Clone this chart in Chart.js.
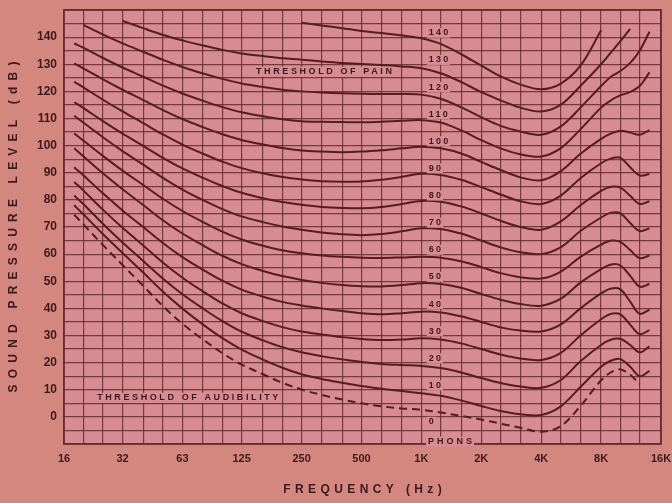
<!DOCTYPE html>
<html>
<head>
<meta charset="utf-8">
<title>Equal loudness contours</title>
<script src="https://cdn.jsdelivr.net/npm/chart.js@4.4.1/dist/chart.umd.min.js"></script>
<style>
  html, body { margin: 0; padding: 0; background: #d4877f; }
  #wrap { width: 672px; height: 503px; }
</style>
</head>
<body>
<div id="wrap"><canvas id="chart" width="672" height="503"></canvas></div>
<script>
// frequency points (Hz) the contours are read at
const FREQ = [18, 20, 25, 31.5, 40, 50, 63, 80, 100, 125, 160, 200, 250, 315, 400, 500, 630, 800,
  1000, 1250, 1600, 2000, 2500, 3150, 4000, 5000, 6300, 8000, 9000, 10000, 11200, 12500, 14000];

// sound pressure level (dB) of each loudness contour, null where the curve is not drawn
const PHON_0 = [74.5, 71, 63.5, 56, 48.3, 41, 34.3, 28.5, 23.5, 19.3, 15.7, 12.6, 10.1, 8.1, 6.4, 5, 3.9, 3.1,
  2.6, 1.6, 0.3, -1, -2.5, -4, -5.5, -3.5, 4, 13.5, 16.5, 17.5, 15.5, 12, null];
const PHON_10 = [78, 74.7, 67.5, 60.4, 53.2, 46.3, 39.9, 34, 29, 24.8, 21.1, 18.1, 15.7, 14, 12.6, 11.4, 10.4, 9.5,
  8.7, 7.8, 6, 4, 2.2, 1, 0.7, 3.8, 11, 18.5, 20.8, 21.3, 18.5, 15, 17];
const PHON_20 = [81.6, 78.5, 71.3, 64.3, 57.5, 51.1, 45.2, 39.9, 35.3, 31.4, 28.2, 25.7, 23.8, 22.4, 21.2, 20.2, 19.5, 19.1,
  18.8, 18, 16.3, 14.3, 12.5, 11.2, 10.7, 13.5, 20.5, 26.5, 28.5, 28.8, 26.5, 23.8, 26];
const PHON_30 = [86.6, 83.5, 76.5, 69.7, 63.2, 57, 51.3, 46.2, 41.8, 38.2, 35.3, 33.1, 31.5, 30.4, 29.4, 28.7, 28.3, 28.5,
  29, 28.5, 27, 25, 23, 21.5, 21, 23.5, 30, 36, 38, 37.8, 34, 30.5, 32];
const PHON_40 = [92, 89.1, 82.5, 76.1, 70, 64.2, 58.9, 54.2, 50.2, 46.9, 44.3, 42.4, 41.1, 40, 39, 38.2, 37.8, 38.2,
  38.8, 38.5, 37, 35, 33, 31.8, 31.5, 34, 40, 45.5, 47.3, 47, 42.5, 38, 39.5];
const PHON_50 = [99, 96.1, 89.9, 83.9, 78.1, 72.6, 67.6, 63.2, 59.4, 56.3, 53.8, 51.9, 50.5, 49.4, 48.6, 48.2, 48.1, 48.6,
  49.3, 49, 47.5, 45.3, 43.2, 41.6, 41, 43.5, 49.5, 54.5, 56.2, 55.8, 52, 48, 49];
const PHON_60 = [104.5, 101.9, 96.3, 90.8, 85.5, 80.5, 75.9, 71.8, 68.3, 65.4, 63.1, 61.4, 60.3, 59.5, 59, 58.7, 58.6, 58.8,
  59, 58.7, 57.3, 55.2, 53, 51.5, 51, 53.5, 59, 63.5, 65, 64.5, 61.5, 58.5, 59.5];
const PHON_70 = [111, 108.5, 103.2, 98, 93, 88.2, 83.8, 79.9, 76.6, 73.9, 71.8, 70.2, 69, 68, 67.3, 67, 67.4, 68.4,
  69.5, 69.3, 67.5, 65, 62.5, 60.7, 60, 62.5, 68.5, 73.5, 75.3, 75, 71.5, 68.5, 69.5];
const PHON_80 = [116, 113.9, 109.1, 104.4, 99.9, 95.6, 91.6, 88.1, 85.1, 82.6, 80.6, 79.2, 78.2, 77.4, 77, 76.9, 77.4, 78.5,
  79.6, 79.3, 77.5, 75, 72.3, 70, 69, 72, 78, 83.3, 84.8, 84.5, 81.5, 78.5, 79.5];
const PHON_90 = [123.5, 121.5, 117, 112.6, 108.3, 104.2, 100.4, 97, 94.1, 91.7, 89.8, 88.4, 87.5, 86.9, 86.7, 86.8, 87.4, 88.5,
  89.6, 89.2, 87.3, 84.7, 82, 79.5, 78.5, 81.5, 88, 93.5, 95.3, 95.5, 92, 89, 89.5];
const PHON_100 = [130.3, 128.5, 124.5, 120.6, 116.8, 113.2, 109.8, 106.8, 104.2, 102.1, 100.4, 99.1, 98.2, 97.8, 97.6, 97.8, 98.3, 99,
  99.6, 99, 97, 94, 91, 88.3, 87.2, 90.5, 97, 102.5, 104.5, 105.5, 104.8, 104, 105.7];
const PHON_110 = [137.7, 136.1, 132.4, 128.8, 125.4, 122.2, 119.2, 116.5, 114.2, 112.3, 110.8, 109.7, 109, 108.8, 108.7, 108.6, 108.8, 109.2,
  109.4, 108.5, 105.5, 102, 99, 96.8, 96, 99, 106, 114, 116.8, 118.5, 119.8, 122, 127];
const PHON_120 = [null, 144.5, 141, 137.7, 134.6, 131.7, 129, 126.6, 124.6, 122.9, 121.6, 120.6, 120, 119.6, 119.3, 119.1, 119, 119,
  118.8, 117.3, 114, 110.5, 107.3, 105.2, 104, 107, 114, 122, 125.5, 127.5, 130.5, 135, 142];
const PHON_130 = [null, null, null, 146, 143.3, 140.9, 138.8, 136.9, 135.3, 134, 133, 132.2, 131.7, 131, 130.5, 130.1, 129.7, 129.2,
  128.5, 126.7, 123.3, 119.7, 116.7, 114, 112.6, 115, 122, 130, 134.5, 138.5, 143, null, null];
const PHON_140 = [null, null, null, null, null, null, null, null, null, null, null, null, 145.3, 144.3, 143.3, 142.3, 141.5, 140.6,
  139.6, 137.5, 133.5, 129.5, 125.5, 122.5, 120.8, 122.8, 129.5, 142.5, null, null, null, null, null];

const PHONS = [0, 10, 20, 30, 40, 50, 60, 70, 80, 90, 100, 110, 120, 130, 140];
const CURVES = [PHON_0, PHON_10, PHON_20, PHON_30, PHON_40, PHON_50, PHON_60, PHON_70,
  PHON_80, PHON_90, PHON_100, PHON_110, PHON_120, PHON_130, PHON_140];

// one-third octave grid and the octave labels
const GRID_HZ = [16, 20, 25, 31.5, 40, 50, 63, 80, 100, 125, 160, 200, 250, 315, 400, 500, 630, 800,
  1000, 1250, 1600, 2000, 2500, 3150, 4000, 5000, 6300, 8000, 10000, 12500, 16000];
const X_LABELS = { 16: '16', 31.5: '32', 63: '63', 125: '125', 250: '250', 500: '500',
  1000: '1K', 2000: '2K', 4000: '4K', 8000: '8K', 16000: '16K' };
const Y_LABELS = [0, 10, 20, 30, 40, 50, 60, 70, 80, 90, 100, 110, 120, 130, 140];

const NOTES = [
  { text: 'THRESHOLD OF PAIN', hz: 324, db: 127.2 },
  { text: 'THRESHOLD OF AUDIBILITY', hz: 67, db: 7 },
];

const OUTER_BG = '#d4877f';
const PLOT_BG = '#d78b93';
const GRID_COLOR = 'rgba(100,45,42,0.85)';
const CURVE_COLOR = '#561d1f';
const INK = '#3a1a1c';
const FONT = "'Liberation Sans', Arial, sans-serif";

function spacedText(ctx, text, x, y, spacing, align) {
  const hasSpacing = 'letterSpacing' in ctx;
  if (hasSpacing) ctx.letterSpacing = spacing + 'px';
  const w = ctx.measureText(text).width - (hasSpacing ? spacing : 0);
  const left = align === 'center' ? x - w / 2 : x;
  ctx.textAlign = 'left';
  ctx.fillText(text, left, y);
  if (hasSpacing) ctx.letterSpacing = '0px';
  return w;
}

function labelBox(ctx, text, x, y, spacing, align) {
  const hasSpacing = 'letterSpacing' in ctx;
  if (hasSpacing) ctx.letterSpacing = spacing + 'px';
  const w = ctx.measureText(text).width - (hasSpacing ? spacing : 0);
  if (hasSpacing) ctx.letterSpacing = '0px';
  const left = align === 'center' ? x - w / 2 : x;
  ctx.fillStyle = PLOT_BG;
  ctx.fillRect(left - 2, y - 5, w + 4, 10);
  ctx.fillStyle = INK;
  spacedText(ctx, text, left, y, spacing, 'left');
}

// keep the plot box fixed: the axes must not push it inwards for their edge labels
function noEdgePadding(scale) {
  scale.paddingLeft = 0;
  scale.paddingRight = 0;
  scale.paddingTop = 0;
  scale.paddingBottom = 0;
}

const paper = {
  id: 'paper',
  beforeDraw(chart) {
    const { ctx, chartArea: a } = chart;
    ctx.save();
    ctx.fillStyle = OUTER_BG;
    ctx.fillRect(0, 0, chart.width, chart.height);
    ctx.fillStyle = PLOT_BG;
    ctx.fillRect(a.left, a.top, a.right - a.left, a.bottom - a.top);
    ctx.restore();
  },
  afterDatasetsDraw(chart) {
    const { ctx, chartArea: a, scales: { x, y } } = chart;
    ctx.save();
    ctx.strokeStyle = GRID_COLOR;
    ctx.lineWidth = 2;
    ctx.strokeRect(a.left, a.top, a.right - a.left, a.bottom - a.top);

    ctx.textBaseline = 'middle';
    ctx.font = 'bold 9px ' + FONT;
    NOTES.forEach((n) => {
      labelBox(ctx, n.text, x.getPixelForValue(n.hz), y.getPixelForValue(n.db), 2.6, 'center');
    });
    const lx = x.getPixelForValue(1090);
    PHONS.forEach((p) => {
      const db = p === 0 ? -1.8 : p + 1.6;
      labelBox(ctx, String(p), lx, y.getPixelForValue(db), 2.2, 'left');
    });
    labelBox(ctx, 'PHONS', x.getPixelForValue(1080), y.getPixelForValue(-9.1), 3, 'left');
    ctx.restore();
  },
  afterDraw(chart) {
    const { ctx, chartArea: a } = chart;
    ctx.save();
    ctx.fillStyle = INK;
    ctx.textBaseline = 'middle';
    ctx.font = 'bold 12px ' + FONT;
    spacedText(ctx, 'FREQUENCY (Hz)', (a.left + a.right) / 2, 490, 4.4, 'center');
    ctx.translate(14, (a.top + a.bottom) / 2);
    ctx.rotate(-Math.PI / 2);
    spacedText(ctx, 'SOUND PRESSURE LEVEL (dB)', 0, 0, 6.2, 'center');
    ctx.restore();
  },
};

new Chart(document.getElementById('chart'), {
  type: 'line',
  data: {
    datasets: CURVES.map((levels, i) => ({
      label: PHONS[i] + ' phon',
      data: FREQ.map((hz, j) => ({ x: hz, y: levels[j] })),
      borderColor: CURVE_COLOR,
      borderWidth: 2,
      borderDash: PHONS[i] === 0 ? [8, 5] : [],
      pointRadius: 0,
      tension: 0.35,
      fill: false,
    })),
  },
  options: {
    responsive: false,
    animation: false,
    layout: { padding: { top: 10, right: 11, left: 0, bottom: 0 } },
    plugins: { legend: { display: false }, tooltip: { enabled: false } },
    scales: {
      x: {
        type: 'logarithmic',
        min: 16,
        max: 16000,
        afterBuildTicks: (scale) => { scale.ticks = GRID_HZ.map((v) => ({ value: v })); },
        afterFit: (scale) => { scale.height = 59; noEdgePadding(scale); },
        grid: { color: GRID_COLOR, lineWidth: 1.2, drawTicks: false },
        border: { display: false },
        ticks: {
          autoSkip: false, maxRotation: 0, minRotation: 0, padding: 8, color: INK,
          font: { family: FONT, size: 11, weight: 'bold' },
          callback: (v) => X_LABELS[v] ?? '',
        },
      },
      y: {
        min: -10,
        max: 150,
        afterFit: (scale) => { scale.width = 64; noEdgePadding(scale); },
        grid: { color: GRID_COLOR, lineWidth: 1.2, drawTicks: false },
        border: { display: false },
        ticks: {
          stepSize: 5, maxTicksLimit: 40, autoSkip: false, padding: 7, color: INK,
          font: { family: FONT, size: 12, weight: 'bold' },
          callback: (v) => (Y_LABELS.includes(v) ? String(v) : ''),
        },
      },
    },
  },
  plugins: [paper],
});
</script>
</body>
</html>
